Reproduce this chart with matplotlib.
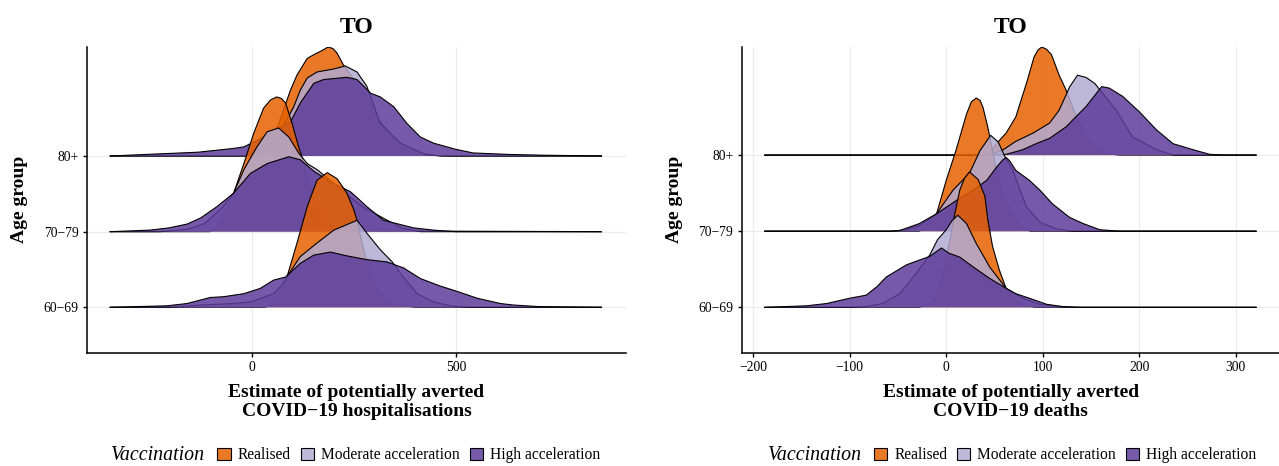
import numpy as np
import matplotlib.pyplot as plt
from matplotlib.patches import Patch
from matplotlib.colors import to_rgba

plt.rcParams['font.family'] = ['Liberation Serif', 'DejaVu Serif']

age_groups = ['60−69', '70−79', '80+']
scenarios = ['Realised', 'Moderate acceleration', 'High acceleration']
colours = ['#E66101', '#B2ABD2', '#5E3C99']

# x range covered by every density (the black baseline), per panel
hosp_range = [-347, 855]
death_range = [-188, 321]

# ---- hospitalisations: x values and ridge heights (in row units)
hosp_80_real_x = [-17, 7, 32, 64, 81, 94, 110, 135, 155, 170, 186, 198, 208, 224, 243, 279, 314, 365, 419, 461]
hosp_80_real_h = [0, .05, .16, .40, .67, .87, 1.07, 1.29, 1.35, 1.39, 1.44, 1.42, 1.36, 1.20, 1.06, .79, .44, .13, .03, 0]
hosp_80_mod_x = [-5, 32, 69, 85, 102, 118, 135, 159, 200, 228, 257, 281, 314, 363, 428, 480]
hosp_80_mod_h = [0, .11, .29, .48, .65, .87, 1.03, 1.11, 1.15, 1.19, 1.11, .92, .43, .17, .01, 0]
hosp_80_high_x = [-347, -132, -45, -20, 10, 50, 94, 118, 151, 175, 232, 257, 290, 314, 347, 379, 412, 444, 497, 541, 630, 715, 855]
hosp_80_high_h = [0, .05, .10, .12, .20, .32, .45, .70, .96, 1.01, 1.04, 1.01, .83, .78, .65, .43, .25, .17, .09, .04, .02, .01, 0]

hosp_70_real_x = [-103, -83, -66, -45, -20, 4, 28, 45, 60, 72, 82, 98, 114, 122, 142, 162, 191, 228]
hosp_70_real_h = [0, .08, .24, .51, .90, 1.30, 1.63, 1.74, 1.78, 1.76, 1.70, 1.43, 1.12, .99, .60, .30, .09, .01]
hosp_70_mod_x = [-225, -159, -115, -71, -45, -20, 12, 37, 65, 90, 114, 135, 159, 191, 230, 270, 365, 412]
hosp_70_mod_h = [0, .03, .11, .33, .51, .82, 1.12, 1.32, 1.37, 1.25, 1.04, .90, .82, .68, .50, .33, .05, 0]
hosp_70_high_x = [-347, -250, -203, -159, -126, -86, -45, -4, 37, 90, 118, 151, 191, 240, 257, 281, 322, 395, 444, 497]
hosp_70_high_h = [0, .02, .05, .10, .18, .33, .51, .77, .90, .99, .95, .80, .66, .53, .45, .33, .15, .05, .02, 0]

hosp_60_real_x = [30, 45, 60, 75, 86, 110, 135, 159, 184, 208, 232, 249, 257, 265, 281, 300, 322, 360, 400]
hosp_60_real_h = [0, .02, .12, .30, .41, .85, 1.33, 1.68, 1.78, 1.70, 1.51, 1.29, 1.15, .95, .60, .30, .12, .03, 0]
hosp_60_mod_x = [-200, -126, -45, -4, 53, 77, 86, 118, 159, 200, 257, 281, 314, 343, 370, 404, 444, 485, 530]
hosp_60_mod_h = [0, .03, .05, .07, .18, .32, .41, .67, .85, 1.02, 1.15, .98, .76, .60, .40, .18, .07, .02, 0]
hosp_60_high_x = [-347, -208, -159, -102, -70, -20, 20, 53, 82, 118, 151, 192, 232, 281, 330, 371, 412, 461, 502, 551, 608, 640, 700, 855]
hosp_60_high_h = [0, .02, .05, .13, .14, .18, .25, .36, .40, .58, .69, .73, .68, .63, .60, .52, .38, .28, .21, .12, .05, .03, .01, 0]

# ---- deaths
death_80_real_x = [38, 45, 52, 62, 72, 83, 91, 95, 99, 104, 109, 117, 124, 135, 148, 166, 180]
death_80_real_h = [0, .04, .15, .29, .50, .94, 1.29, 1.38, 1.42, 1.39, 1.32, 1.05, .86, .50, .20, .02, 0]
death_80_mod_x = [45, 59, 72, 90, 107, 117, 128, 136, 145, 154, 159, 176, 193, 218, 235]
death_80_mod_h = [0, .07, .18, .29, .42, .59, .90, 1.05, 1.02, .94, .86, .59, .24, .07, 0]
death_80_high_x = [55, 62, 79, 93, 107, 124, 145, 161, 169, 183, 200, 218, 235, 256, 273, 290]
death_80_high_h = [0, .01, .07, .15, .22, .37, .64, .90, .88, .77, .57, .33, .15, .07, .01, 0]

death_70_real_x = [-28, -22, -17, -10, 0, 10, 21, 26, 31, 35, 38, 43, 50, 57, 66, 76, 87]
death_70_real_h = [0, .05, .14, .23, .67, 1.06, 1.54, 1.70, 1.75, 1.72, 1.63, 1.37, .93, .56, .26, .08, 0]
death_70_mod_x = [-55, -42, -28, -10, 7, 24, 35, 46, 54, 60, 69, 83, 97, 114, 130]
death_70_mod_h = [0, .02, .07, .23, .54, .76, 1.06, 1.26, 1.17, 1.00, .80, .32, .12, .03, 0]
death_70_high_x = [-60, -48, -28, -10, 10, 28, 42, 52, 58, 62, 66, 72, 86, 97, 110, 128, 142, 159, 180]
death_70_high_h = [0, .01, .10, .23, .40, .54, .67, .84, .93, .97, .92, .80, .67, .54, .36, .18, .10, .02, 0]

death_60_real_x = [-28, -17, -10, -5, 0, 4, 9, 14, 19, 24, 33, 40, 43, 48, 55, 62, 71, 81, 92]
death_60_real_h = [0, .05, .15, .35, .65, .90, 1.24, 1.54, 1.70, 1.78, 1.68, 1.46, 1.15, .80, .49, .25, .10, .03, 0]
death_60_mod_x = [-100, -83, -66, -48, -31, -17, -9, 0, 6, 12, 21, 31, 45, 62, 79, 97, 114, 130]
death_60_mod_h = [0, .01, .05, .18, .45, .69, .89, 1.02, 1.14, 1.21, 1.10, .84, .53, .25, .12, .04, .01, 0]
death_60_high_x = [-188, -145, -124, -100, -83, -72, -62, -41, -28, -17, -5, 3, 14, 28, 45, 62, 72, 86, 104, 121, 140, 321]
death_60_high_h = [0, .02, .05, .12, .16, .27, .40, .56, .62, .67, .78, .71, .66, .53, .38, .25, .18, .12, .04, .01, 0, 0]

hosp = {
    '80+': [(hosp_80_real_x, hosp_80_real_h), (hosp_80_mod_x, hosp_80_mod_h), (hosp_80_high_x, hosp_80_high_h)],
    '70−79': [(hosp_70_real_x, hosp_70_real_h), (hosp_70_mod_x, hosp_70_mod_h), (hosp_70_high_x, hosp_70_high_h)],
    '60−69': [(hosp_60_real_x, hosp_60_real_h), (hosp_60_mod_x, hosp_60_mod_h), (hosp_60_high_x, hosp_60_high_h)],
}
deaths = {
    '80+': [(death_80_real_x, death_80_real_h), (death_80_mod_x, death_80_mod_h), (death_80_high_x, death_80_high_h)],
    '70−79': [(death_70_real_x, death_70_real_h), (death_70_mod_x, death_70_mod_h), (death_70_high_x, death_70_high_h)],
    '60−69': [(death_60_real_x, death_60_real_h), (death_60_mod_x, death_60_mod_h), (death_60_high_x, death_60_high_h)],
}

ALPHA = 0.85


def ridges(ax, curves, xr):
    z = 2
    # top row first so lower rows sit on top, like ggridges
    for age in ['80+', '70−79', '60−69']:
        base = age_groups.index(age) + 1
        for k, (xs, hs) in enumerate(curves[age]):
            xx = np.array([xr[0]] + xs + [xr[1]], dtype=float)
            yy = base + np.array([0] + hs + [0], dtype=float)
            ax.fill_between(xx, base, yy, facecolor=colours[k], alpha=ALPHA, lw=0, zorder=z)
            ax.plot(xx, yy, color='black', lw=0.8, zorder=z + 0.5, solid_joinstyle='round')
            z += 1


def style(ax, xlabel, xticks, xlim, ylim, leg_x, title_x):
    ax.set_xlim(xlim)
    ax.set_ylim(ylim)
    ax.set_xticks(xticks)
    ax.set_xticklabels([str(t).replace('-', '−') for t in xticks])
    ax.set_yticks([1, 2, 3])
    ax.set_yticklabels(age_groups)
    ax.grid(True, color='#EBEBEB', lw=0.9, zorder=0)
    ax.set_axisbelow(True)
    for s in ['top', 'right']:
        ax.spines[s].set_visible(False)
    for s in ['left', 'bottom']:
        ax.spines[s].set_linewidth(1.1)
    ax.tick_params(length=3, width=1.0, labelsize=9.8, pad=3, colors='black')
    ax.set_xlabel(xlabel, fontsize=14, fontweight='bold', labelpad=7, linespacing=1.2)
    ax.set_ylabel('Age group', fontsize=14, fontweight='bold', labelpad=11)
    ax.set_title('TO', fontsize=17, fontweight='bold', pad=10)
    handles = [Patch(facecolor=to_rgba(c, ALPHA), edgecolor='black', lw=0.8) for c in colours]
    ax.legend(handles, scenarios, loc='center', bbox_to_anchor=(leg_x, -0.335), ncol=3,
              frameon=False, fontsize=11.2, handlelength=0.85, handleheight=0.85,
              columnspacing=0.64, handletextpad=0.45)
    ax.text(title_x, -0.335, 'Vaccination', transform=ax.transAxes, ha='right',
            va='center', style='italic', fontsize=14.3)


fig = plt.figure(figsize=(12.79, 4.66), dpi=100)
ax1 = fig.add_axes([0.0680, 0.2431, 0.4214, 0.656])
ax2 = fig.add_axes([0.5799, 0.2431, 0.4210, 0.656])

ridges(ax1, hosp, hosp_range)
style(ax1, 'Estimate of potentially averted\nCOVID−19 hospitalisations', [0, 500],
      (-404, 915), (0.40, 4.44), 0.597, 0.219)

ridges(ax2, deaths, death_range)
style(ax2, 'Estimate of potentially averted\nCOVID−19 deaths', [-200, -100, 0, 100, 200, 300],
      (-212, 346), (0.404, 4.42), 0.601, 0.223)

fig.savefig('out.png', dpi=100)
